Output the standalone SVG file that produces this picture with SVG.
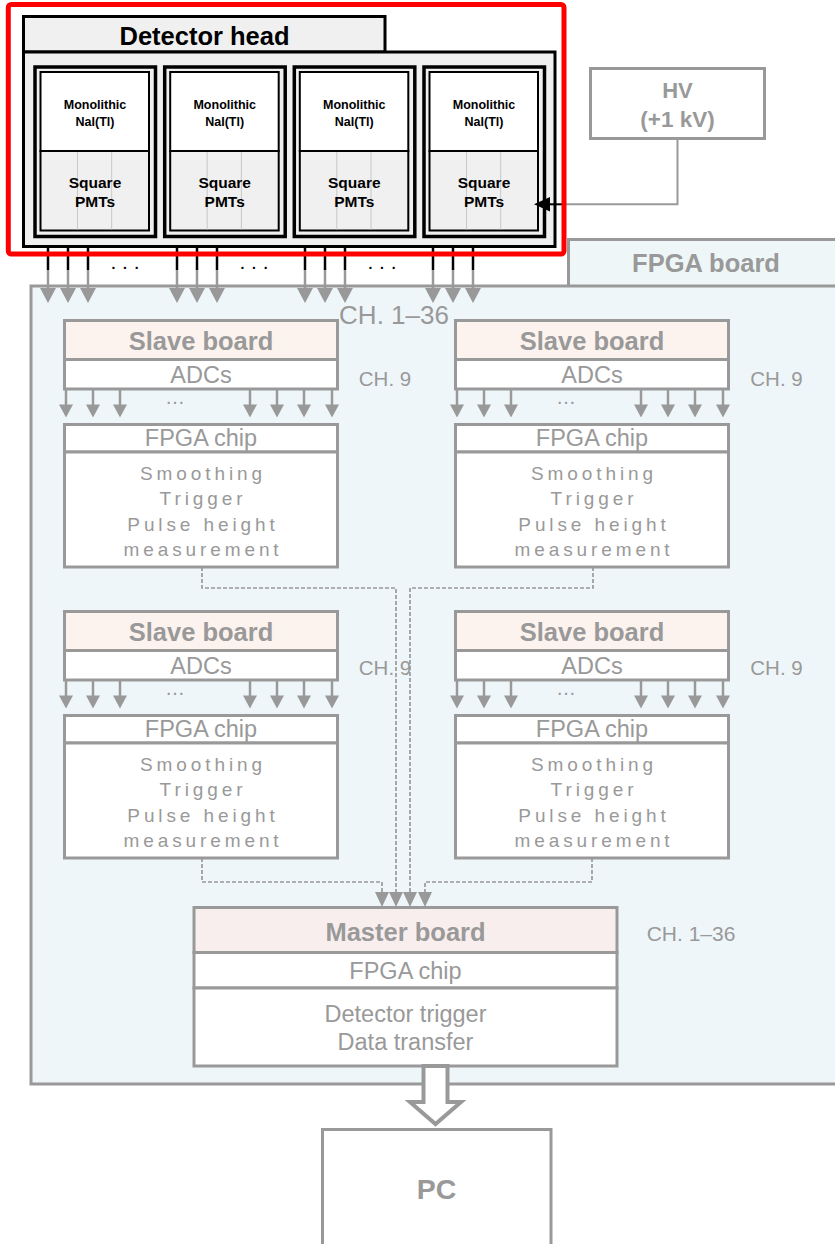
<svg xmlns="http://www.w3.org/2000/svg" xmlns:xlink="http://www.w3.org/1999/xlink" width="835" height="1244" viewBox="0 0 835 1244">
<style>
text{font-family:"Liberation Sans",Arial,sans-serif;text-anchor:middle}
.blk{fill:#000;font-weight:bold}
.g{fill:#999}
.gb{fill:#999;font-weight:bold}
.box{stroke:#999;stroke-width:3;fill:#fff}
.ttl{stroke:#999;stroke-width:3;fill:#fdf3ee}
.sp{font-size:19px;letter-spacing:3.9px;fill:#999}
.reg{font-size:23.5px;fill:#999}
.dash{fill:none;stroke:#999;stroke-width:1.7;stroke-dasharray:4,2}
</style>
<defs>
<g id="sa">
<line x1="0" y1="0" x2="0" y2="17" stroke="#999" stroke-width="2.5"/>
<polygon points="-7,15.5 7,15.5 0,28.5" fill="#999"/>
</g>
<g id="da">
<line x1="0" y1="0" x2="0" y2="24" stroke="#000" stroke-width="2.5"/>
<line x1="0" y1="24" x2="0" y2="43" stroke="#999" stroke-width="2.5"/>
<polygon points="-8,42 8,42 0,57" fill="#999"/>
</g>
<g id="mod">
<rect x="0" y="0" width="120.5" height="169.5" fill="#f0f0f0" stroke="#000" stroke-width="3.5"/>
<rect x="5.5" y="5" width="108.5" height="79" fill="#fff" stroke="#000" stroke-width="2"/>
<rect x="5.5" y="84" width="108.5" height="79.5" fill="#f0f0f0" stroke="#000" stroke-width="2"/>
<line x1="42.5" y1="85" x2="42.5" y2="162.5" stroke="#c8c8c8" stroke-width="1"/>
<line x1="76.7" y1="85" x2="76.7" y2="162.5" stroke="#c8c8c8" stroke-width="1"/>
<text x="60" y="42" class="blk" font-size="12.5">Monolithic</text>
<text x="60" y="59" class="blk" font-size="12.5">NaI(Tl)</text>
<text x="60" y="121" class="blk" font-size="15.5">Square</text>
<text x="60" y="140" class="blk" font-size="15.5">PMTs</text>
</g>
<g id="slave">
<rect x="0" y="0" width="273" height="39" class="ttl"/>
<rect x="0" y="39" width="273" height="29.5" class="box"/>
<rect x="0" y="104" width="273" height="27.5" class="box"/>
<rect x="0" y="131.5" width="273" height="115" class="box"/>
<text x="136.5" y="29" class="gb" font-size="25.5">Slave board</text>
<text x="136.5" y="62" class="reg">ADCs</text>
<text x="136.5" y="125.5" class="reg">FPGA chip</text>
<text x="138.5" y="159" class="sp">Smoothing</text>
<text x="138.5" y="184.5" class="sp">Trigger</text>
<text x="138.5" y="210" class="sp">Pulse height</text>
<text x="138.5" y="235.5" class="sp">measurement</text>
<text x="110.5" y="83" class="g" font-size="20">…</text>
<use xlink:href="#sa" x="1.5" y="68.5"/>
<use xlink:href="#sa" x="28.5" y="68.5"/>
<use xlink:href="#sa" x="55.5" y="68.5"/>
<use xlink:href="#sa" x="185.5" y="68.5"/>
<use xlink:href="#sa" x="212.5" y="68.5"/>
<use xlink:href="#sa" x="239.5" y="68.5"/>
<use xlink:href="#sa" x="267.5" y="68.5"/>
</g>
</defs>

<g id="fpga-board">
<rect x="568.5" y="239.5" width="280" height="50" fill="#eef6f8" stroke="#999" stroke-width="3"/>
<text x="706" y="271.5" class="gb" font-size="25.5">FPGA board</text>
<rect x="31" y="286" width="820" height="798" fill="#eff6f9" stroke="#999" stroke-width="3"/>
<text x="394" y="324" class="g" font-size="26">CH. 1–36</text>
<text x="385" y="386" class="g" font-size="20.5">CH. 9</text>
<text x="776.5" y="386" class="g" font-size="20.5">CH. 9</text>
<text x="385" y="675" class="g" font-size="20.5">CH. 9</text>
<text x="776.5" y="675" class="g" font-size="20.5">CH. 9</text>
<text x="691" y="941" class="g" font-size="21">CH. 1–36</text>
</g>

<g id="slave-board-1"><use xlink:href="#slave" x="64.5" y="320.5"/></g>
<g id="slave-board-2"><use xlink:href="#slave" x="455.5" y="320.5"/></g>
<g id="slave-board-3"><use xlink:href="#slave" x="64.5" y="611.5"/></g>
<g id="slave-board-4"><use xlink:href="#slave" x="455.5" y="611.5"/></g>

<g id="master-board">
<rect x="194" y="907.5" width="423" height="45" stroke="#999" stroke-width="3" fill="#f9eeee"/>
<rect x="194" y="952.5" width="423" height="35.5" class="box"/>
<rect x="194" y="988" width="423" height="78" class="box"/>
<text x="405.5" y="940.5" class="gb" font-size="25.5">Master board</text>
<text x="405.5" y="979" class="reg">FPGA chip</text>
<text x="405.5" y="1021.5" class="reg">Detector trigger</text>
<text x="405.5" y="1049.5" class="reg">Data transfer</text>
</g>

<g id="pc">
<rect x="322.5" y="1129.5" width="228.5" height="130" fill="#fff" stroke="#999" stroke-width="3"/>
<text x="436.5" y="1198.5" class="gb" font-size="28.5">PC</text>
</g>

<g id="hv">
<rect x="590.5" y="68.5" width="174" height="70" fill="#fff" stroke="#999" stroke-width="3"/>
<text x="677.5" y="97.5" class="gb" font-size="22">HV</text>
<text x="677.5" y="127" class="gb" font-size="22.5">(+1 kV)</text>
</g>

<g id="detector-head">
<rect x="23.5" y="16.5" width="361.5" height="35.5" fill="#f0f0f0" stroke="#000" stroke-width="3"/>
<rect x="23.5" y="52" width="531.5" height="194.5" fill="#f0f0f0" stroke="#000" stroke-width="3"/>
<text x="204.5" y="45" class="blk" font-size="25.5">Detector head</text>
<g id="module-1"><use xlink:href="#mod" x="35" y="67"/></g>
<g id="module-2"><use xlink:href="#mod" x="164.7" y="67"/></g>
<g id="module-3"><use xlink:href="#mod" x="294.3" y="67"/></g>
<g id="module-4"><use xlink:href="#mod" x="424" y="67"/></g>
</g>

<g id="connectors">
<use xlink:href="#da" x="48" y="246"/>
<use xlink:href="#da" x="68" y="246"/>
<use xlink:href="#da" x="88" y="246"/>
<use xlink:href="#da" x="177" y="246"/>
<use xlink:href="#da" x="197" y="246"/>
<use xlink:href="#da" x="217" y="246"/>
<use xlink:href="#da" x="305" y="246"/>
<use xlink:href="#da" x="325" y="246"/>
<use xlink:href="#da" x="345" y="246"/>
<use xlink:href="#da" x="433" y="246"/>
<use xlink:href="#da" x="453" y="246"/>
<use xlink:href="#da" x="473" y="246"/>
<text x="125" y="269" fill="#000" font-size="21">. . .</text>
<text x="254" y="269" fill="#000" font-size="21">. . .</text>
<text x="382" y="269" fill="#000" font-size="21">. . .</text>
<polyline points="677.5,138.5 677.5,204.3 564,204.3" fill="none" stroke="#999" stroke-width="2"/>
<line x1="564" y1="204.3" x2="548" y2="204.3" stroke="#000" stroke-width="2"/>
<polygon points="550,197 550,211.5 534,204.3" fill="#000"/>
<path class="dash" d="M202,567 V588 H396 V893"/>
<path class="dash" d="M593,567 V588 H410 V893"/>
<path class="dash" d="M202,858 V882 H382 V893"/>
<path class="dash" d="M592,858 V882 H425 V893"/>
<polygon points="375,892 389,892 382,907" fill="#999"/>
<polygon points="389,892 403,892 396,907" fill="#999"/>
<polygon points="403,892 417,892 410,907" fill="#999"/>
<polygon points="418,892 432,892 425,907" fill="#999"/>
<polygon points="423.5,1066 447.5,1066 447.5,1102 461,1102 435.5,1124 410,1102 423.5,1102 423.5,1066" fill="#fff" stroke="#999" stroke-width="4"/>
</g>

<g id="highlight">
<rect x="8.3" y="4.5" width="555.7" height="249.5" rx="3" fill="none" stroke="#ff0000" stroke-width="5"/>
</g>
</svg>
